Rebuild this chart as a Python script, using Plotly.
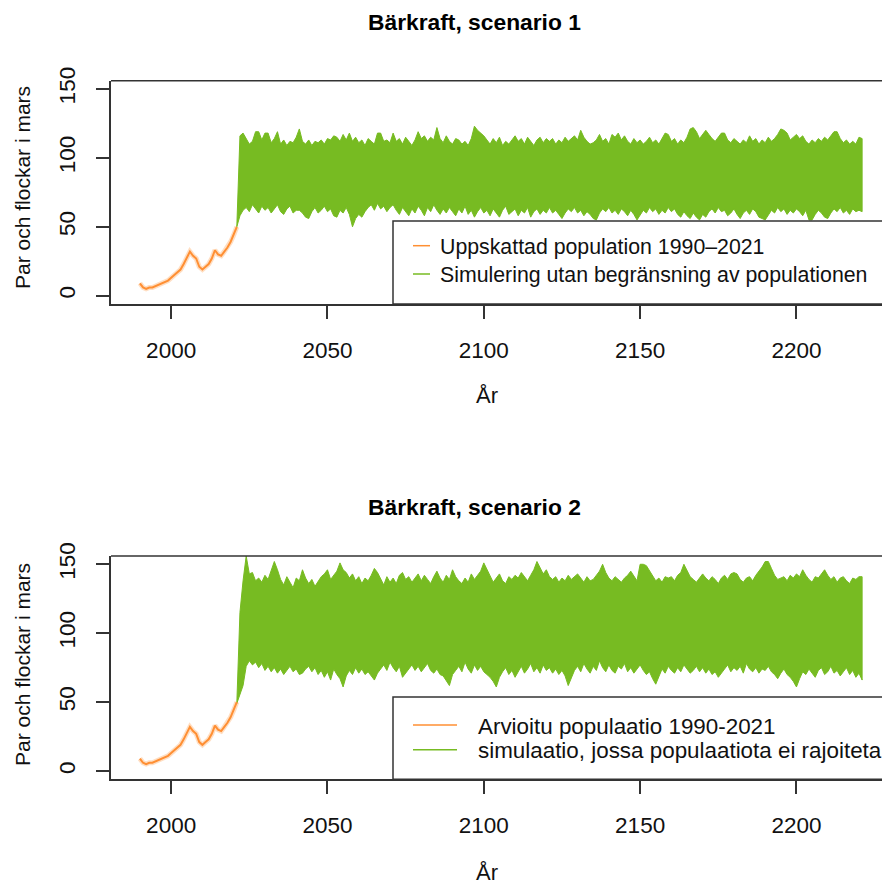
import plotly.graph_objects as go

W, H = 882, 887

# ---------------- data ----------------
est_years = list(range(1990, 2022))
est_values = [9, 6, 5, 6, 6, 7, 8, 9, 10, 11,
              13, 15, 17, 19, 23, 28, 32, 29, 27, 21,
              19, 21, 23, 27, 33, 30, 29, 32, 35, 39,
              44, 50]

sim_years = list(range(2021, 2222))

# Scenario 1: upper / lower envelope of the simulated trajectories
s1_upper = [50, 116, 118, 114, 110, 112, 119, 119, 113, 118,
            118, 111, 114, 119, 110, 113, 109, 112, 111, 115,
            121, 112, 110, 113, 109, 112, 111, 113, 110, 114,
            113, 116, 115, 112, 117, 113, 118, 112, 115, 111,
            113, 109, 114, 112, 110, 118, 118, 112, 113, 111,
            118, 112, 114, 110, 115, 112, 109, 113, 119, 114,
            116, 112, 115, 113, 122, 114, 111, 116, 112, 110,
            114, 113, 110, 112, 109, 114, 123, 120, 118, 116,
            113, 110, 114, 111, 115, 109, 112, 110, 113, 116,
            112, 114, 110, 115, 112, 109, 113, 115, 111, 114,
            112, 114, 110, 113, 111, 115, 112, 114, 116, 113,
            120, 115, 112, 110, 111, 113, 117, 112, 114, 110,
            117, 115, 118, 113, 116, 112, 110, 114, 111, 113,
            110, 112, 115, 111, 113, 110, 114, 118, 117, 112,
            114, 110, 113, 111, 115, 121, 122, 119, 114, 117,
            120, 117, 114, 112, 115, 118, 118, 113, 111, 114,
            112, 110, 113, 111, 116, 112, 114, 110, 113, 111,
            115, 112, 114, 117, 121, 120, 118, 113, 115, 117,
            114, 116, 112, 110, 113, 111, 114, 112, 115, 113,
            116, 119, 119, 114, 111, 113, 110, 112, 110, 115,
            114]
s1_lower = [50, 58, 62, 64, 61, 66, 63, 60, 65, 62,
            64, 60, 63, 66, 61, 59, 63, 65, 60, 62,
            62, 60, 57, 56, 61, 64, 60, 62, 65, 61,
            63, 58, 57, 62, 60, 64, 59, 50, 56, 59,
            57, 61, 64, 66, 62, 67, 63, 65, 61, 64,
            66, 62, 59, 64, 61, 58, 63, 60, 65, 62,
            58, 64, 61, 66, 62, 59, 63, 60, 64, 61,
            58, 63, 60, 65, 59, 62, 57, 61, 64, 60,
            62, 58, 63, 60, 57, 62, 65, 59, 61, 63,
            58, 62, 60, 64, 57, 61, 63, 59, 62, 60,
            64, 60, 62, 59, 56, 60, 63, 61, 64, 60,
            62, 58, 61, 59, 56, 55, 60, 63, 61, 64,
            60, 62, 59, 63, 61, 58, 62, 59, 55, 58,
            62, 60, 64, 61, 63, 59, 62, 60, 64, 61,
            63, 59, 57, 61, 58, 56, 60, 57, 55, 59,
            57, 61, 63, 60, 64, 61, 62, 58, 60, 63,
            59, 56, 60, 62, 59, 63, 61, 57, 56, 55,
            58, 62, 60, 64, 61, 63, 59, 62, 60, 63,
            61, 58, 62, 55, 55, 59, 62, 60, 57, 56,
            60, 63, 61, 64, 60, 62, 59, 63, 61, 62,
            61]

# Scenario 2
s2_upper = [49, 115, 138, 156, 143, 144, 138, 140, 137, 142,
            139, 145, 152, 146, 139, 135, 141, 137, 133, 140,
            138, 146, 140, 136, 139, 134, 138, 141, 143, 146,
            139, 142, 145, 151, 146, 144, 140, 143, 138, 141,
            136, 140, 138, 142, 147, 144, 139, 135, 141, 137,
            140, 136, 142, 144, 139, 141, 137, 140, 143, 138,
            142, 139, 136, 141, 145, 140, 137, 142, 139, 146,
            141, 138, 136, 140, 137, 143, 139, 142, 145, 151,
            146, 141, 137, 140, 143, 138, 136, 141, 139, 142,
            140, 144, 141, 138, 142, 146, 152, 147, 143, 146,
            141, 139, 141, 137, 140, 138, 142, 139, 141, 143,
            140, 137, 141, 138, 139, 142, 145, 150, 144, 140,
            138, 141, 139, 137, 140, 142, 145, 141, 138, 150,
            150, 149, 145, 141, 138, 140, 137, 141, 140, 141,
            138, 142, 144, 150, 146, 141, 139, 137, 140, 143,
            140, 138, 141, 139, 136, 140, 142, 139, 143, 144,
            143, 139, 137, 140, 141, 138, 142, 145, 148, 152,
            152, 147, 142, 139, 140, 141, 138, 142, 140, 143,
            141, 146, 142, 139, 137, 141, 140, 143, 146, 142,
            139, 141, 137, 140, 141, 138, 136, 140, 139, 141,
            141]
s2_lower = [49, 55, 62, 76, 80, 77, 79, 75, 78, 73,
            76, 72, 75, 71, 74, 70, 73, 76, 72, 74,
            70, 71, 74, 76, 72, 75, 70, 73, 68, 72,
            66, 74, 70, 67, 61, 69, 73, 70, 75, 71,
            74, 70, 72, 69, 66, 71, 74, 77, 73, 79,
            75, 72, 76, 68, 71, 74, 77, 73, 76, 72,
            75, 78, 73, 71, 74, 70, 69, 66, 62, 70,
            73, 76, 72, 79, 74, 71, 77, 73, 76, 72,
            70, 68, 65, 61, 68, 72, 75, 70, 73, 68,
            72, 76, 71, 74, 78, 72, 75, 71, 77, 73,
            75, 71, 74, 70, 73, 69, 62, 68, 73, 76,
            72, 78, 74, 71, 76, 73, 80, 75, 72, 77,
            73, 71, 76, 74, 78, 72, 75, 71, 74, 77,
            73, 70, 72, 67, 63, 69, 74, 71, 76, 73,
            71, 75, 72, 77, 74, 71, 73, 76, 72, 75,
            71, 74, 70, 72, 68, 71, 74, 77, 72, 75,
            73, 76, 71, 78, 74, 72, 75, 71, 74, 73,
            76, 72, 70, 67, 71, 74, 70, 68, 65, 61,
            67, 72, 70, 74, 71, 68, 73, 75, 70, 72,
            76, 71, 73, 69, 72, 75, 70, 73, 68, 71,
            66]

for arr in (s1_upper, s1_lower, s2_upper, s2_lower):
    assert len(arr) == len(sim_years), len(arr)

x_ticks = [2000, 2050, 2100, 2150, 2200]
y_ticks = [0, 50, 100, 150]

titles = ["Bärkraft, scenario 1", "Bärkraft, scenario 2"]
x_title = "År"
y_title = "Par och flockar i mars"
legend_texts = [
    ["Uppskattad population 1990–2021", "Simulering utan begränsning av populationen"],
    ["Arvioitu populaatio 1990-2021", "simulaatio, jossa populaatiota ei rajoiteta"],
]

# ---------------- style ----------------
FONT = "Liberation Sans, Arial, sans-serif"
GREEN = "#77BB22"
ORANGE = "#FF8F33"
ORANGE_GLOW = "rgba(255,160,80,0.35)"
AXC = "#333333"
TXT = "#111111"

def px_x(p):
    return p / W

def px_y(p):
    return 1 - p / H

panels = [
    dict(top=80.7, bottom=304.0, upper=s1_upper, lower=s1_lower,
         title_y=22.5, xt_y=395, xt_anchor="middle", yl_y=188,
         leg_top=221, leg_rows=(246.7, 275.0), leg_line=(413, 430), leg_text_x=438,
         leg_size=21.3),
    dict(top=556.0, bottom=779.3, upper=s2_upper, lower=s2_lower,
         title_y=507, xt_y=887, xt_anchor="bottom", yl_y=665,
         leg_top=697, leg_rows=(726.0, 750.8), leg_line=(413, 457), leg_text_x=476,
         leg_size=22.4),
]

fig = go.Figure()
shapes = []
annotations = []
layout_axes = {}

for i, p in enumerate(panels):
    n = "" if i == 0 else str(i + 1)
    xa, ya = "x" + n, "y" + n
    # green simulated band (envelope of all trajectories)
    fig.add_trace(go.Scatter(
        x=sim_years + sim_years[::-1],
        y=p["upper"] + p["lower"][::-1],
        xaxis=xa, yaxis=ya, mode="lines", fill="toself",
        fillcolor=GREEN, line=dict(color=GREEN, width=1),
        showlegend=False, hoverinfo="skip"))
    # orange estimated population (soft halo + core)
    fig.add_trace(go.Scatter(
        x=est_years, y=est_values, xaxis=xa, yaxis=ya, mode="lines",
        line=dict(color=ORANGE_GLOW, width=5), showlegend=False, hoverinfo="skip"))
    fig.add_trace(go.Scatter(
        x=est_years, y=est_values, xaxis=xa, yaxis=ya, mode="lines",
        line=dict(color=ORANGE, width=2), showlegend=False))

    layout_axes["xaxis" + n] = dict(
        domain=[px_x(111), 1], range=[1980.76, 2227.36], anchor=ya,
        tickmode="array", tickvals=x_ticks, ticks="outside", ticklen=13,
        tickwidth=1.5, tickcolor=AXC, showline=True, linecolor=AXC, linewidth=1.5,
        showgrid=False, zeroline=False, ticklabelstandoff=12, automargin=False,
        tickfont=dict(family=FONT, size=22.5, color=TXT))
    layout_axes["yaxis" + n] = dict(
        domain=[px_y(p["bottom"]), px_y(p["top"])], range=[-6, 156], anchor=xa,
        tickmode="array", tickvals=y_ticks, ticks="outside", ticklen=13,
        tickwidth=1.5, tickcolor=AXC, showline=True, linecolor=AXC, linewidth=1.5,
        showgrid=False, zeroline=False, tickangle=-90, ticklabelstandoff=12,
        automargin=False,
        tickfont=dict(family=FONT, size=22.5, color=TXT))

    # top border of plot box
    shapes.append(dict(type="line", xref=xa + " domain", yref=ya + " domain",
                       x0=0, x1=1, y0=1, y1=1, line=dict(color=AXC, width=1.5)))
    # legend box
    shapes.append(dict(type="rect", xref="paper", yref="paper",
                       x0=px_x(393), x1=1.05, y0=px_y(p["bottom"]), y1=px_y(p["leg_top"]),
                       fillcolor="white", line=dict(color=AXC, width=1.5), layer="above"))
    for color, ry in zip([ORANGE, GREEN], p["leg_rows"]):
        shapes.append(dict(type="line", xref="paper", yref="paper",
                           x0=px_x(p["leg_line"][0]), x1=px_x(p["leg_line"][1]),
                           y0=px_y(ry - 1), y1=px_y(ry - 1),
                           line=dict(color=color, width=1.5), layer="above"))
    for txt, ry in zip(legend_texts[i], p["leg_rows"]):
        annotations.append(dict(text=txt, xref="paper", yref="paper",
                                x=px_x(p["leg_text_x"]), y=px_y(ry), xanchor="left",
                                yanchor="middle", showarrow=False,
                                font=dict(family=FONT, size=p["leg_size"], color=TXT)))
    # title
    annotations.append(dict(text="<b>" + titles[i] + "</b>", xref="paper", yref="paper",
                            x=px_x(474.5), y=px_y(p["title_y"]), xanchor="center",
                            yanchor="middle", showarrow=False,
                            font=dict(family=FONT, size=22.8, color="#000000")))
    # axis titles
    annotations.append(dict(text=x_title, xref="paper", yref="paper",
                            x=px_x(487), y=px_y(p["xt_y"]), xanchor="center",
                            yanchor=p["xt_anchor"], showarrow=False,
                            font=dict(family=FONT, size=22, color=TXT)))
    annotations.append(dict(text=y_title, xref="paper", yref="paper",
                            x=px_x(22), y=px_y(p["yl_y"]), xanchor="center",
                            yanchor="middle", showarrow=False, textangle=-90,
                            font=dict(family=FONT, size=21, color=TXT)))

fig.update_layout(
    width=W, height=H, margin=dict(l=0, r=0, t=0, b=0, autoexpand=False),
    paper_bgcolor="white", plot_bgcolor="white",
    showlegend=False, shapes=shapes, annotations=annotations,
    **layout_axes)

fig.write_html("out.html")
